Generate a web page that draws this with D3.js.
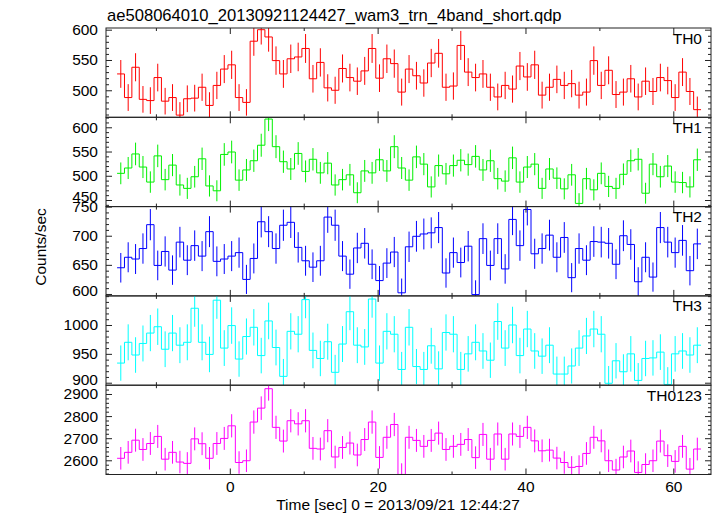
<!DOCTYPE html>
<html>
<head>
<meta charset="utf-8">
<script src="https://cdn.jsdelivr.net/npm/d3@7"></script>
<style>
  html, body { margin: 0; padding: 0; background: #fff; }
  svg { display: block; }
  text { font-family: "Liberation Sans", Arial, Helvetica, sans-serif; fill: #000; }
</style>
</head>
<body>
<div id="chart"></div>
<script>
// ---------- data ----------
const title = "ae508064010_20130921124427_wam3_trn_4band_short.qdp";
const xLabel = "Time [sec] 0 = 2013/09/21 12:44:27";
const yLabel = "Counts/sec";
const binWidth = 1.0;
const time = [-14.75,-13.75,-12.75,-11.75,-10.75,-9.75,-8.75,-7.75,-6.75,-5.75,
  -4.75,-3.75,-2.75,-1.75,-0.75,0.25,1.25,2.25,3.25,4.25,
  5.25,6.25,7.25,8.25,9.25,10.25,11.25,12.25,13.25,14.25,
  15.25,16.25,17.25,18.25,19.25,20.25,21.25,22.25,23.25,24.25,
  25.25,26.25,27.25,28.25,29.25,30.25,31.25,32.25,33.25,34.25,
  35.25,36.25,37.25,38.25,39.25,40.25,41.25,42.25,43.25,44.25,
  45.25,46.25,47.25,48.25,49.25,50.25,51.25,52.25,53.25,54.25,
  55.25,56.25,57.25,58.25,59.25,60.25,61.25,62.25,63.25];
const xMajorTicks = [0, 20, 40, 60];
const xMinorTicks = [-10, 10, 30, 50];

const panelNames = ["TH0", "TH1", "TH2", "TH3", "TH0123"];
const panelColors = ["#ff0000", "#00f000", "#0000ff", "#00ffff", "#ff00ff"];

const th0 = [527,488,538,485,483,521,482,488,459,486, 487,505,475,508,535,542,488,480,581,600,
  588,549,527,552,555,569,519,546,504,500, 536,521,515,532,569,520,552,544,497,535,
  524,512,545,561,505,507,574,530,521,527, 505,489,508,502,540,522,542,492,505,518,
  508,511,492,497,549,508,533,493,497,519, 489,515,498,521,516,488,530,498,468];
const th1 = [505,516,545,518,487,541,492,522,481,474, 498,535,479,469,544,549,491,512,531,563,
  617,560,529,514,546,509,534,506,526,481, 492,502,465,510,506,533,510,560,516,491,
  539,524,477,521,504,521,532,523,540,512, 531,494,489,537,487,518,524,474,514,495,
  473,502,443,494,471,505,478,474,503,531, 534,464,524,498,520,487,486,477,533];
const th2 = [645,663,660,678,719,649,673,641,689,658, 683,665,707,656,660,665,671,625,661,724,
  707,678,718,723,680,657,646,657,732,718, 665,634,679,687,651,623,653,672,602,681,
  699,703,705,714,636,671,654,682,599,695, 649,695,643,728,683,745,669,678,701,663,
  697,628,678,658,690,689,687,651,700,685, 621,663,629,714,689,671,692,640,686];
const th3 = [934,970,948,968,986,997,958,986,965,970, 1029,970,949,1043,960,999,941,980,996,947,
  1007,961,911,989,984,1044,956,942,971,918, 967,1023,965,962,1045,934,989,984,923,996,
  928,923,964,924,987,984,923,950,970,955, 939,1006,960,1000,947,993,955,946,965,915,
  915,929,960,981,993,984,899,938,919,950, 904,942,943,953,897,950,955,948,965];
const th0123 = [2609,2636,2691,2649,2676,2708,2605,2636,2592,2586, 2697,2675,2609,2676,2699,2756,2590,2598,2773,2836,
  2924,2749,2687,2779,2765,2779,2654,2651,2734,2615, 2658,2678,2624,2694,2773,2613,2704,2762,2536,2704,
  2690,2663,2690,2723,2649,2663,2672,2694,2612,2717, 2605,2719,2605,2719,2708,2749,2688,2643,2646,2610,
  2590,2568,2572,2631,2704,2688,2598,2556,2615,2642, 2545,2581,2598,2687,2621,2595,2663,2560,2651];
const seriesValues = [th0, th1, th2, th3, th0123];

const yDomains = [[455.4, 602.8], [436.4, 620.6], [596.7, 750], [895.7, 1050.4], [2535.7, 2939.8]];
const yMajorTicks = [[500, 550, 600], [450, 500, 550, 600], [600, 650, 700, 750], [900, 950, 1000], [2600, 2700, 2800, 2900]];
const yMinorStep = [10, 10, 10, 10, 20];

// ---------- layout ----------
const W = 717, H = 516;
const plotLeft = 106, plotRight = 711, plotTop = 28, plotBottom = 474.5;
const nP = seriesValues.length;
const ph = (plotBottom - plotTop) / nP;
const fs = 15.5;

const svg = d3.select("#chart").append("svg")
  .attr("width", W).attr("height", H)
  .attr("viewBox", `0 0 ${W} ${H}`);
svg.append("rect").attr("width", W).attr("height", H).attr("fill", "#fff");

const x = d3.scaleLinear().domain([-16.75, 65.1]).range([plotLeft, plotRight]);

svg.append("text").attr("x", 107).attr("y", 20.5)
  .style("font-size", "16.6px").text(title);

svg.append("text")
  .attr("transform", `translate(45.5, 247) rotate(-90)`)
  .attr("text-anchor", "middle")
  .style("font-size", fs + "px").text(yLabel);

svg.append("text").attr("x", 398).attr("y", 509.5)
  .attr("text-anchor", "middle")
  .style("font-size", fs + "px").text(xLabel);

const defs = svg.append("defs");

seriesValues.forEach((vals, k) => {
  const y0 = plotTop + k * ph, y1 = y0 + ph;
  const y = d3.scaleLinear().domain(yDomains[k]).range([y1, y0]);
  const g = svg.append("g");
  const color = panelColors[k];

  defs.append("clipPath").attr("id", "clip" + k)
    .append("rect").attr("x", plotLeft).attr("y", y0).attr("width", plotRight - plotLeft).attr("height", ph);

  const plot = g.append("g").attr("clip-path", `url(#clip${k})`);

  // error bars (Poisson: sqrt of rate for 1-s bins)
  plot.selectAll("line.err").data(vals).join("line")
    .attr("class", "err")
    .attr("x1", (d, i) => x(time[i])).attr("x2", (d, i) => x(time[i]))
    .attr("y1", d => y(d - Math.sqrt(d))).attr("y2", d => y(d + Math.sqrt(d)))
    .attr("stroke", color).attr("stroke-width", 1);

  // step histogram
  const pts = [];
  vals.forEach((d, i) => {
    pts.push([x(time[i] - binWidth / 2), y(d)]);
    pts.push([x(time[i] + binWidth / 2), y(d)]);
  });
  plot.append("path").attr("d", d3.line()(pts))
    .attr("fill", "none").attr("stroke", color).attr("stroke-width", 1);

  // axes ticks
  const tickColor = "#222";
  const styleAxis = sel => {
    sel.select(".domain").remove();
    sel.selectAll(".tick line").attr("stroke", tickColor);
    sel.selectAll("text").style("font-size", fs + "px")
      .style("font-family", '"Liberation Sans", Arial, Helvetica, sans-serif').attr("fill", "#000");
  };
  const [dmin, dmax] = yDomains[k];
  const minors = d3.range(Math.ceil(dmin / yMinorStep[k]) * yMinorStep[k], dmax, yMinorStep[k])
    .filter(v => !yMajorTicks[k].includes(v));

  const yAx = g.append("g").attr("transform", `translate(${plotLeft},0)`)
    .call(d3.axisLeft(y).tickValues(yMajorTicks[k]).tickSize(-6).tickPadding(8).tickFormat(d3.format("d")))
    .call(styleAxis);
  // keep a label that sits on the lower panel edge slightly inside its panel
  yAx.selectAll(".tick text").attr("y", d => (y(d) > y1 - 8 && k < nP - 1) ? -3 : 0);

  g.append("g").attr("transform", `translate(${plotLeft},0)`)
    .call(d3.axisLeft(y).tickValues(minors).tickSize(-3).tickFormat(""))
    .call(styleAxis);
  g.append("g").attr("transform", `translate(${plotRight},0)`)
    .call(d3.axisRight(y).tickValues(yMajorTicks[k]).tickSize(-6).tickFormat(""))
    .call(styleAxis);
  g.append("g").attr("transform", `translate(${plotRight},0)`)
    .call(d3.axisRight(y).tickValues(minors).tickSize(-3).tickFormat(""))
    .call(styleAxis);

  g.append("g").attr("transform", `translate(0,${y1})`)
    .call(d3.axisBottom(x).tickValues(xMajorTicks).tickSize(-6).tickPadding(6)
      .tickFormat(k === nP - 1 ? d3.format("d") : ""))
    .call(styleAxis);
  g.append("g").attr("transform", `translate(0,${y1})`)
    .call(d3.axisBottom(x).tickValues(xMinorTicks).tickSize(-3).tickFormat(""))
    .call(styleAxis);
  g.append("g").attr("transform", `translate(0,${y0})`)
    .call(d3.axisTop(x).tickValues(xMajorTicks).tickSize(-6).tickFormat(""))
    .call(styleAxis);
  g.append("g").attr("transform", `translate(0,${y0})`)
    .call(d3.axisTop(x).tickValues(xMinorTicks).tickSize(-3).tickFormat(""))
    .call(styleAxis);

  // frame
  g.append("rect").attr("x", plotLeft).attr("y", y0).attr("width", plotRight - plotLeft).attr("height", ph)
    .attr("fill", "none").attr("stroke", "#222").attr("stroke-width", 1);

  // panel label
  g.append("text").attr("x", 702).attr("y", y0 + 15.5)
    .attr("text-anchor", "end").style("font-size", fs + "px").text(panelNames[k]);
});
</script>
</body>
</html>
